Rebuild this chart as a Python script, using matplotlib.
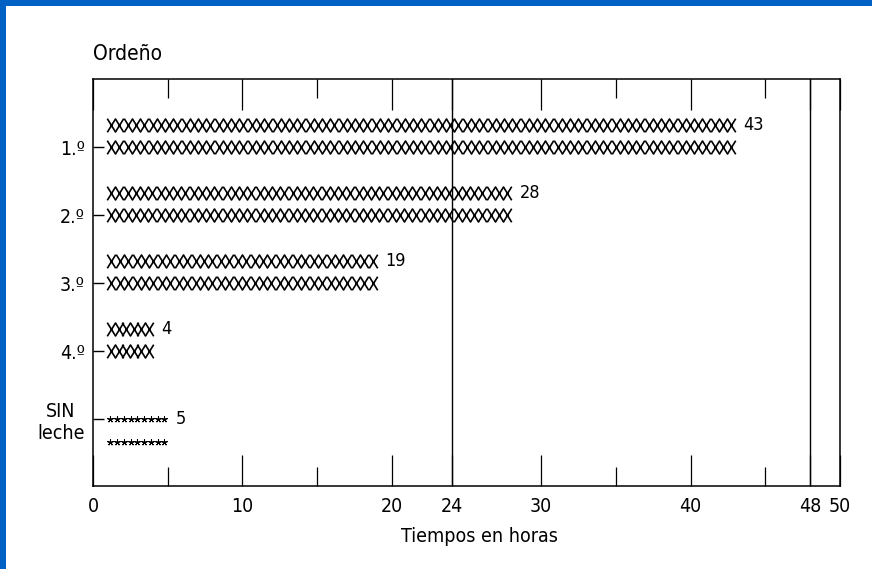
import numpy as np
import matplotlib
matplotlib.use('Agg')
import matplotlib.pyplot as plt
from matplotlib.path import Path
from matplotlib.patches import Rectangle
from matplotlib import font_manager

# datos del gráfico (ordeño)
categorias = ['1.º', '2.º', '3.º', '4.º', 'SIN\nleche']
horas = [43, 28, 19, 4, 5]
simbolos = ['X', 'X', 'X', 'X', '*']
ticks_x = [0, 10, 20, 24, 30, 40, 48, 50]
lineas_v = [24, 48]

# fuente estrecha si existe (el original usa una letra condensada)
fuentes = font_manager.fontManager.ttflist
nombres = {f.name for f in fuentes}
dejavu_cond = any(f.name == 'DejaVu Sans' and 'condensed' in str(f.stretch) for f in fuentes)
if 'Liberation Sans Narrow' in nombres:
    plt.rcParams['font.family'] = ['Liberation Sans Narrow', 'DejaVu Sans']
elif dejavu_cond:
    plt.rcParams['font.family'] = ['DejaVu Sans']
    plt.rcParams['font.stretch'] = 'condensed'
else:
    plt.rcParams['font.family'] = ['Liberation Sans', 'DejaVu Sans']

# marcador en forma de letra X (más alto que ancho)
marca_x = Path([(-0.62, -1), (0.62, 1), (-0.62, 1), (0.62, -1)],
               [Path.MOVETO, Path.LINETO, Path.MOVETO, Path.LINETO])

fig = plt.figure(figsize=(8.72, 5.69), dpi=100, facecolor='white')
azul = '#0061c5'
fig.patches.append(Rectangle((0, 1 - 6 / 569), 1, 6 / 569, transform=fig.transFigure,
                             facecolor=azul, edgecolor='none', zorder=-10))
fig.patches.append(Rectangle((0, 0), 6 / 872, 1, transform=fig.transFigure,
                             facecolor=azul, edgecolor='none', zorder=-10))
ax = fig.add_axes([93 / 872, (569 - 486) / 569, 747 / 872, 407 / 569])
ax.set_facecolor('none')

inicio = 0.94
for i, (v, s) in enumerate(zip(horas, simbolos)):
    pos = i + 1
    if s == 'X':
        paso = 0.556
        filas = [pos - 0.32, pos]
        fila_txt = pos - 0.32
    else:
        paso = 0.43
        filas = [pos, pos + 0.34]
        fila_txt = pos
    n = int(round((v - inicio) / paso))
    xs = np.linspace(inicio + paso / 2, v - paso / 2, n)
    for y in filas:
        if s == 'X':
            ax.plot(xs, np.full(n, y), linestyle='none', marker=marca_x,
                    markersize=9.8, markeredgewidth=1.2, color='black',
                    markerfacecolor='none')
        else:
            ax.plot(xs, np.full(n, y), linestyle='none', marker=(5, 2, 0),
                    markersize=4.6, markeredgewidth=0.75, color='black')
    ax.text(v + 0.55, fila_txt, str(v), ha='left', va='center', fontsize=13)

for xv in lineas_v:
    ax.axvline(xv, color='black', lw=1.0)

ax.set_xlim(0, 50)
ax.set_ylim(5.985, 0)

ax.set_xticks(ticks_x)
ax.set_xticklabels([str(t) for t in ticks_x], fontsize=14)
ax.set_xticks([5, 15, 35, 45], minor=True)
ax.tick_params(axis='x', which='major', direction='in', length=22, width=0.9,
               top=True, pad=8)
ax.tick_params(axis='x', which='minor', direction='in', length=13.5, width=0.9,
               top=True)

ax.set_yticks(range(1, len(categorias) + 1))
ax.set_yticklabels(categorias, fontsize=14)
ax.tick_params(axis='y', direction='in', length=8, width=1.0, pad=6)
for lab in ax.get_yticklabels():
    lab.set_multialignment('center')

for sp in ax.spines.values():
    sp.set_linewidth(1.1)

ax.set_title('Ordeño', loc='left', fontsize=15, pad=14)
ax.set_xlabel('Tiempos en horas', fontsize=14, labelpad=8, x=0.517)

fig.savefig('out.png', dpi=100)
